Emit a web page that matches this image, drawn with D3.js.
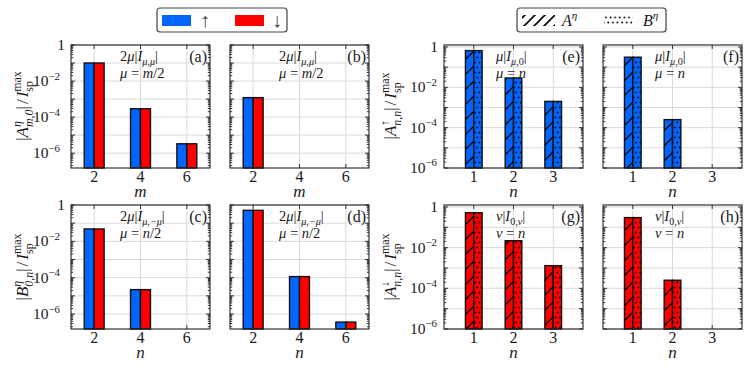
<!DOCTYPE html>
<html>
<head>
<meta charset="utf-8">
<script src="https://cdn.jsdelivr.net/npm/d3@7"></script>
<style>
  body { margin: 0; background: #fff; }
</style>
</head>
<body>
<svg id="chart" width="753" height="370" font-family="'Liberation Serif', 'DejaVu Serif', serif"></svg>
<script>
// ---- data ----
const mCats = [2, 4, 6];
const nCats = [2, 4, 6];
const nCatsRight = [1, 2, 3];

// left block: up / down spin
const aUp   = [1.0e-1, 2.9e-4, 3.3e-6];
const aDown = [1.0e-1, 2.9e-4, 3.3e-6];
const bUp   = [1.2e-3, 0, 0];
const bDown = [1.2e-3, 0, 0];
const cUp   = [4.8e-2, 2.2e-5, 0];
const cDown = [4.8e-2, 2.2e-5, 0];
const dUp   = [5.1e-1, 1.15e-4, 3.6e-7];
const dDown = [5.1e-1, 1.15e-4, 3.6e-7];

// right block: A (hatched) / B (dotted)
const eA = [6.6e-1, 2.9e-2, 2.0e-3];
const eB = [6.6e-1, 2.9e-2, 2.0e-3];
const fA = [3.1e-1, 2.5e-4, 0];
const fB = [3.1e-1, 2.5e-4, 0];
const gA = [5.2e-1, 2.2e-2, 1.3e-3];
const gB = [5.2e-1, 2.2e-2, 1.3e-3];
const hA = [3.0e-1, 2.5e-4, 0];
const hB = [3.0e-1, 2.5e-4, 0];

const leftYDomain = [1.5e-7, 1];
const rightYDomain = [1e-6, 1.25];
const yLabelExps = [0, -2, -4, -6];

const blue = "#0066ff";
const red = "#ff0000";
const ink = "#1a1a1a";

let svg = d3.select("#chart");

// patterns
let defs = svg.append("defs");
let hatch = defs.append("pattern").attr("id", "hatch")
    .attr("patternUnits", "userSpaceOnUse").attr("width", 15).attr("height", 15);
hatch.append("path").attr("d", "M-2,17 L17,-2 M-17,17 L2,-2 M13,17 L32,-2")
    .attr("stroke", "#000").attr("stroke-width", 1.3);
let hatchLeg = defs.append("pattern").attr("id", "hatchLeg")
    .attr("patternUnits", "userSpaceOnUse").attr("width", 10).attr("height", 10);
hatchLeg.append("path").attr("d", "M-2,12 L12,-2 M-12,12 L2,-2 M8,12 L22,-2")
    .attr("stroke", "#000").attr("stroke-width", 1.6);
let dots = defs.append("pattern").attr("id", "dots")
    .attr("patternUnits", "userSpaceOnUse").attr("width", 4.6).attr("height", 10);
dots.append("circle").attr("cx", 1.1).attr("cy", 2.5).attr("r", 0.9).attr("fill", "#000");
dots.append("circle").attr("cx", 3.4).attr("cy", 7.5).attr("r", 0.9).attr("fill", "#000");

// math-ish text: segments {t, it, s:'sup'|'sub', stack}
let mathText = (g, x, y, segs, size, anchor) => {
    let t = g.append("text").attr("x", x).attr("y", y)
        .attr("font-size", size).attr("text-anchor", anchor || "start").attr("fill", ink);
    let cur = 0, prevLen = 0, pending = 0;
    segs.forEach(s => {
        let fs = s.s ? size * 0.7 : size;
        let target = s.s === "sup" ? -size * 0.42 : s.s === "sub" ? size * 0.3 : 0;
        let sp = t.append("tspan").attr("font-size", fs).attr("dy", target - cur).text(s.t);
        if (s.it) sp.attr("font-style", "italic");
        cur = target;
        let len = sp.node().getComputedTextLength();
        if (s.stack) {
            sp.attr("dx", -prevLen);
            pending = Math.max(0, prevLen - len);
        } else if (pending) {
            sp.attr("dx", pending + (s.gap || 0));
            pending = 0;
        } else if (s.gap) {
            sp.attr("dx", s.gap);
        }
        prevLen = len;
    });
    return t;
};

let panels = [
    {x: 71,  y: 45,  h: 123, cats: mCats, xd: [1, 7], yd: leftYDomain, left: true, labels: true,
     series: [aUp, aDown], kind: "spin", xl: "m", tag: "(a)",
     ann: [[{t: "2"}, {t: "μ", it: 1}, {t: "|"}, {t: "I", it: 1}, {t: "μ,μ", it: 1, s: "sub"}, {t: "|"}],
           [{t: "μ", it: 1}, {t: " = "}, {t: "m", it: 1}, {t: "/2"}]]},
    {x: 230, y: 45,  h: 123, cats: mCats, xd: [1, 7], yd: leftYDomain, left: true, labels: false,
     series: [bUp, bDown], kind: "spin", xl: "m", tag: "(b)",
     ann: [[{t: "2"}, {t: "μ", it: 1}, {t: "|"}, {t: "I", it: 1}, {t: "μ,μ", it: 1, s: "sub"}, {t: "|"}],
           [{t: "μ", it: 1}, {t: " = "}, {t: "m", it: 1}, {t: "/2"}]]},
    {x: 71,  y: 205, h: 124, cats: nCats, xd: [1, 7], yd: leftYDomain, left: true, labels: true,
     series: [cUp, cDown], kind: "spin", xl: "n", tag: "(c)",
     ann: [[{t: "2"}, {t: "μ", it: 1}, {t: "|"}, {t: "I", it: 1}, {t: "μ,−μ", it: 1, s: "sub"}, {t: "|"}],
           [{t: "μ", it: 1}, {t: " = "}, {t: "n", it: 1}, {t: "/2"}]]},
    {x: 230, y: 205, h: 124, cats: nCats, xd: [1, 7], yd: leftYDomain, left: true, labels: false,
     series: [dUp, dDown], kind: "spin", xl: "n", tag: "(d)",
     ann: [[{t: "2"}, {t: "μ", it: 1}, {t: "|"}, {t: "I", it: 1}, {t: "μ,−μ", it: 1, s: "sub"}, {t: "|"}],
           [{t: "μ", it: 1}, {t: " = "}, {t: "n", it: 1}, {t: "/2"}]]},
    {x: 444, y: 45,  h: 123, cats: nCatsRight, xd: [0.25, 3.75], yd: rightYDomain, left: false, labels: true,
     series: [eA, eB], kind: "ab", color: blue, xl: "n", tag: "(e)",
     ann: [[{t: "μ", it: 1}, {t: "|"}, {t: "I", it: 1}, {t: "μ", it: 1, s: "sub"}, {t: ",0", s: "sub"}, {t: "|"}],
           [{t: "μ", it: 1}, {t: " = "}, {t: "n", it: 1}]]},
    {x: 603, y: 45,  h: 123, cats: nCatsRight, xd: [0.25, 3.75], yd: rightYDomain, left: false, labels: false,
     series: [fA, fB], kind: "ab", color: blue, xl: "n", tag: "(f)",
     ann: [[{t: "μ", it: 1}, {t: "|"}, {t: "I", it: 1}, {t: "μ", it: 1, s: "sub"}, {t: ",0", s: "sub"}, {t: "|"}],
           [{t: "μ", it: 1}, {t: " = "}, {t: "n", it: 1}]]},
    {x: 444, y: 205, h: 124, cats: nCatsRight, xd: [0.25, 3.75], yd: rightYDomain, left: false, labels: true,
     series: [gA, gB], kind: "ab", color: red, xl: "n", tag: "(g)",
     ann: [[{t: "ν", it: 1}, {t: "|"}, {t: "I", it: 1}, {t: "0,", s: "sub"}, {t: "ν", it: 1, s: "sub"}, {t: "|"}],
           [{t: "ν", it: 1}, {t: " = "}, {t: "n", it: 1}]]},
    {x: 603, y: 205, h: 124, cats: nCatsRight, xd: [0.25, 3.75], yd: rightYDomain, left: false, labels: false,
     series: [hA, hB], kind: "ab", color: red, xl: "n", tag: "(h)",
     ann: [[{t: "ν", it: 1}, {t: "|"}, {t: "I", it: 1}, {t: "0,", s: "sub"}, {t: "ν", it: 1, s: "sub"}, {t: "|"}],
           [{t: "ν", it: 1}, {t: " = "}, {t: "n", it: 1}]]}
];

const panelW = 139;

panels.forEach(p => {
    let g = svg.append("g");
    let x = d3.scaleLinear().domain(p.xd).range([p.x, p.x + panelW]);
    let y = d3.scaleLog().domain(p.yd).range([p.y + p.h, p.y]);
    let x0 = p.x, x1 = p.x + panelW, y0 = p.y, y1 = p.y + p.h;

    let lo = Math.floor(Math.log10(p.yd[0])), hi = Math.ceil(Math.log10(p.yd[1]));
    let majors = d3.range(lo, hi + 1).map(e => Math.pow(10, e)).filter(v => v >= p.yd[0] && v <= p.yd[1]);
    let minors = [];
    d3.range(lo, hi + 1).forEach(e => d3.range(2, 10).forEach(k => {
        let v = k * Math.pow(10, e);
        if (v > p.yd[0] && v < p.yd[1]) minors.push(v);
    }));

    // grid
    g.selectAll(".hg").data(majors).enter().append("line")
        .attr("x1", x0).attr("x2", x1).attr("y1", d => y(d)).attr("y2", d => y(d))
        .attr("stroke", "#d9d9d9").attr("stroke-width", 1);
    g.selectAll(".vg").data(p.cats).enter().append("line")
        .attr("x1", d => x(d)).attr("x2", d => x(d)).attr("y1", y0).attr("y2", y1)
        .attr("stroke", "#d9d9d9").attr("stroke-width", 1);

    // bars
    let half = p.left ? 0.43 : 0.21;
    p.series.forEach((vals, si) => {
        vals.forEach((v, i) => {
            if (!v) return;
            let c = p.cats[i];
            let bx = si === 0 ? x(c - half) : x(c);
            let bw = x(c) - x(c - half);
            let fill = p.kind === "spin" ? (si === 0 ? blue : red) : p.color;
            g.append("rect").attr("x", bx).attr("y", y(v)).attr("width", bw).attr("height", y1 - y(v))
                .attr("fill", fill);
            if (p.kind === "ab") {
                g.append("rect").attr("x", bx).attr("y", y(v)).attr("width", bw).attr("height", y1 - y(v))
                    .attr("fill", si === 0 ? "url(#hatch)" : "url(#dots)");
            }
            g.append("rect").attr("x", bx).attr("y", y(v)).attr("width", bw).attr("height", y1 - y(v))
                .attr("fill", "none").attr("stroke", "#111").attr("stroke-width", 1.4);
        });
    });

    // ticks (inward, all sides)
    let tk = g.append("g").attr("stroke", "#222").attr("stroke-width", 0.9);
    majors.forEach(v => {
        tk.append("line").attr("x1", x0).attr("x2", x0 + 4).attr("y1", y(v)).attr("y2", y(v));
        tk.append("line").attr("x1", x1).attr("x2", x1 - 4).attr("y1", y(v)).attr("y2", y(v));
    });
    minors.forEach(v => {
        tk.append("line").attr("x1", x0).attr("x2", x0 + 2.2).attr("y1", y(v)).attr("y2", y(v));
        tk.append("line").attr("x1", x1).attr("x2", x1 - 2.2).attr("y1", y(v)).attr("y2", y(v));
    });
    p.cats.forEach(c => {
        tk.append("line").attr("x1", x(c)).attr("x2", x(c)).attr("y1", y1).attr("y2", y1 - 4);
        tk.append("line").attr("x1", x(c)).attr("x2", x(c)).attr("y1", y0).attr("y2", y0 + 4);
    });

    // frame
    g.append("rect").attr("x", x0).attr("y", y0).attr("width", panelW).attr("height", p.h)
        .attr("fill", "none").attr("stroke", "#222").attr("stroke-width", 1.1);

    // x tick labels + label
    p.cats.forEach(c => {
        g.append("text").attr("x", x(c)).attr("y", y1 + 14).attr("text-anchor", "middle")
            .attr("font-size", 16).attr("fill", ink).text(c);
    });
    g.append("text").attr("x", (x0 + x1) / 2).attr("y", y1 + 29).attr("text-anchor", "middle")
        .attr("font-size", 17).attr("font-style", "italic").attr("fill", ink).text(p.xl);

    // y tick labels
    if (p.labels) {
        yLabelExps.forEach(e => {
            let v = Math.pow(10, e);
            if (e === 0) {
                mathText(g, x0 - 6, y(v) + 5, [{t: "1"}], 15.5, "end");
            } else {
                mathText(g, x0 - (p.left ? 11 : 7), y(v) + 5, [{t: "10"}, {t: "−" + (-e), s: "sup"}], 15.5, "end");
            }
        });
    }

    // annotations
    let ax = x0 + (p.left ? 49 : 52);
    mathText(g, ax, y0 + 16, p.ann[0], 14.5);
    mathText(g, ax, y0 + 33, p.ann[1], 14.5);
    g.append("text").attr("x", x1 - 3).attr("y", y0 + 17).attr("text-anchor", "end")
        .attr("font-size", 16).attr("fill", ink).text(p.tag);
});

// y axis labels
let yLab = (cx, cy, segs) => {
    let gg = svg.append("g").attr("transform", `translate(${cx},${cy}) rotate(-90)`);
    mathText(gg, 0, 0, segs, 17, "middle");
};
let tail = [{t: "|"}, {t: "/", gap: 2}, {t: "I", it: 1, gap: 2}, {t: "max", s: "sup"}, {t: "sp", s: "sub", stack: 1}];
yLab(28, 106, [{t: "|"}, {t: "A", it: 1}, {t: "η", it: 1, s: "sup"}, {t: "m,0", it: 1, s: "sub", stack: 1}].concat(tail));
yLab(28, 267, [{t: "|"}, {t: "B", it: 1}, {t: "η", it: 1, s: "sup"}, {t: "0,n", it: 1, s: "sub", stack: 1}].concat(tail));
yLab(396, 106, [{t: "|"}, {t: "A", it: 1}, {t: "↑", s: "sup"}, {t: "n,n", it: 1, s: "sub", stack: 1}].concat(tail));
yLab(396, 267, [{t: "|"}, {t: "A", it: 1}, {t: "↓", s: "sup"}, {t: "n,n", it: 1, s: "sub", stack: 1}].concat(tail));

// legends
let leg1 = svg.append("g");
leg1.append("rect").attr("x", 157).attr("y", 8).attr("width", 130).attr("height", 24).attr("rx", 3)
    .attr("fill", "#fff").attr("stroke", "#444").attr("stroke-width", 1.2);
leg1.append("rect").attr("x", 162).attr("y", 15).attr("width", 29).attr("height", 11).attr("fill", blue);
leg1.append("text").attr("x", 205).attr("y", 27).attr("text-anchor", "middle").attr("font-size", 20)
    .attr("fill", "#444").text("↑");
leg1.append("rect").attr("x", 235).attr("y", 15).attr("width", 29).attr("height", 11).attr("fill", red);
leg1.append("text").attr("x", 277).attr("y", 27).attr("text-anchor", "middle").attr("font-size", 20)
    .attr("fill", "#444").text("↓");

let leg2 = svg.append("g");
leg2.append("rect").attr("x", 517).attr("y", 8).attr("width", 149).attr("height", 24).attr("rx", 3)
    .attr("fill", "#fff").attr("stroke", "#444").attr("stroke-width", 1.2);
leg2.append("rect").attr("x", 522).attr("y", 15).attr("width", 33).attr("height", 11).attr("fill", "url(#hatchLeg)");
mathText(leg2, 562, 26, [{t: "A", it: 1}, {t: "η", it: 1, s: "sup"}], 16);
leg2.append("rect").attr("x", 604).attr("y", 15).attr("width", 29).attr("height", 11).attr("fill", "url(#dots)");
mathText(leg2, 643, 26, [{t: "B", it: 1}, {t: "η", it: 1, s: "sup"}], 16);
</script>
</body>
</html>
